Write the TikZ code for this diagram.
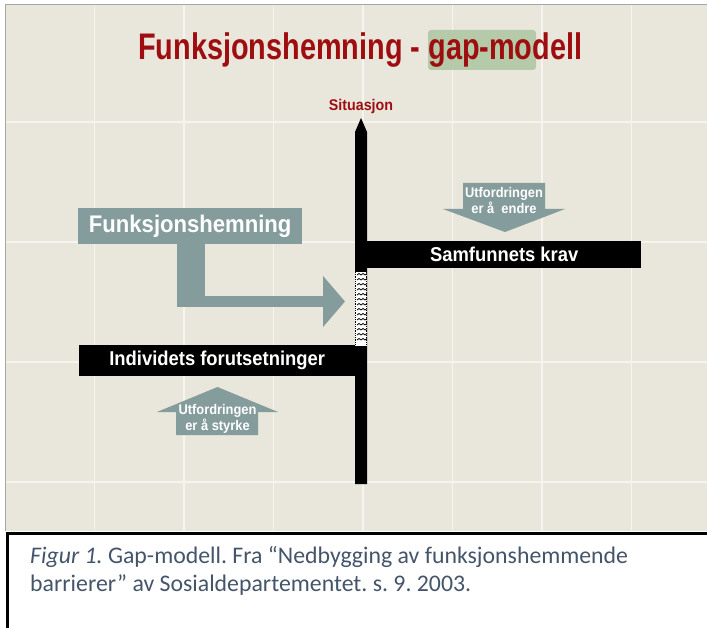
\documentclass[tikz,border=0pt]{standalone}
\usepackage{fontspec}
\setmainfont{Liberation Sans}
\newfontfamily\titlefont{Liberation Sans}[FakeStretch=0.78]
\newfontfamily\slidefont{Liberation Sans}[FakeStretch=0.92]
\newfontfamily\capfont{Carlito}
\definecolor{slidebeige}{RGB}{233,230,220}
\definecolor{gridwhite}{RGB}{246,244,239}
\definecolor{titlered}{RGB}{158,14,16}
\definecolor{markgreen}{RGB}{181,202,168}
\definecolor{slateteal}{RGB}{133,156,157}
\definecolor{captionblue}{RGB}{68,84,106}
\usetikzlibrary{arrows.meta,positioning}
\tikzset{
  blackbar/.style={fill=black, text=white, inner sep=0pt,
    font=\slidefont\bfseries\fontsize{20}{22}\selectfont},
  arrowtext/.style={text=white, align=center, inner sep=0pt,
    font=\slidefont\bfseries\fontsize{14}{16}\selectfont},
  gridline/.style={gridwhite, line width=1.2pt}
}
\frenchspacing

\begin{document}
\begin{tikzpicture}[x=1pt, y=-1pt]
  \useasboundingbox (0,0) rectangle (707,628);
  \clip (0,0) rectangle (707,628);
  % slide
  \fill[slidebeige] (5,5) rectangle (707,531);
  \foreach \gx in {94.5,184,273.5,363,452.5,542,631.5}
    \draw[gridline] (\gx,5) -- (\gx,531);
  \foreach \gy in {122,242,362,482}
    \draw[gridline] (5,\gy) -- (707,\gy);
  \draw[gray!70, line width=1pt] (5,531) |- (707,5);

  % title
  \fill[markgreen, rounded corners=3pt] (428,30) rectangle (536,70);
  \node[titlered, inner sep=0pt, anchor=base west,
        font=\titlefont\bfseries\fontsize{37}{40}\selectfont] (title) at (138,60)
        {Funksjonshemning - gap-modell};

  % situasjon axis
  \coordinate (tip) at (361,118);
  \fill[black] (355,132) -- (tip) -- (367,132) -- (367,484) -- (355,484) -- cycle;
  \node[titlered, inner sep=0pt, above=4pt of tip,
        font=\slidefont\bfseries\fontsize{15.5}{17}\selectfont] (situasjon) {Situasjon};
  \fill[white] (355,272) rectangle (367,346);
  \foreach \hy in {275,280,...,343}
    \draw[line width=0.8pt] (357,\hy) -- ++(2,-1.5) -- ++(2,1.5) -- ++(2,-1.5)
      -- ++(2,1.5) -- ++(2,-1.5);
  \draw[densely dotted, line width=0.8pt] (355.5,272) -- (355.5,346);
  \draw[densely dotted, line width=0.8pt] (366.5,272) -- (366.5,346);

  % bars
  \node[blackbar, minimum width=274pt, minimum height=27pt, anchor=north west]
    (krav) at (367,241) {Samfunnets krav};
  \node[blackbar, minimum width=276pt, minimum height=31pt, anchor=north west]
    (individ) at (79,345) {Individets forutsetninger};

  % funksjonshemning
  \node[fill=slateteal, text=white, inner sep=0pt, minimum width=224pt,
        minimum height=36pt, anchor=north west,
        font=\slidefont\bfseries\fontsize{24}{26}\selectfont] (funk) at (78,208)
        {Funksjonshemning};
  \coordinate (bend) at (177,301.5);
  \coordinate (gapin) at (345,301.5);
  \fill[slateteal] (funk.south -| bend) rectangle ++(28,63);
  \draw[slateteal, line width=11pt, -{Triangle[length=22pt, width=50pt]}] (bend) -- (gapin);

  % utfordringer
  \fill[slateteal] (463,183) -- (545,183) -- (545,209) -- (565,209) -- (505,232)
    -- (443,209) -- (463,209) -- cycle;
  \node[arrowtext] (endre) at (504,200) {Utfordringen\\er å\ \ endre};
  \fill[slateteal] (176,435) -- (176,412) -- (157,412) -- (217.5,387) -- (278,412)
    -- (258,412) -- (258,435) -- cycle;
  \node[arrowtext] (styrke) at (217.5,418.5) {Utfordringen\\er å styrke};

  % caption
  \draw[line width=2.5pt] (7.5,533.5) rectangle (720,640);
  \node[captionblue, inner sep=0pt, align=left, anchor=north west,
        font=\capfont\fontsize{23.8}{28}\selectfont] (caption) at (30,546)
        {\textit{Figur 1.} Gap-modell. Fra “Nedbygging av funksjonshemmende\\
         barrierer” av Sosialdepartementet. s. 9. 2003.};
\end{tikzpicture}
\end{document}
